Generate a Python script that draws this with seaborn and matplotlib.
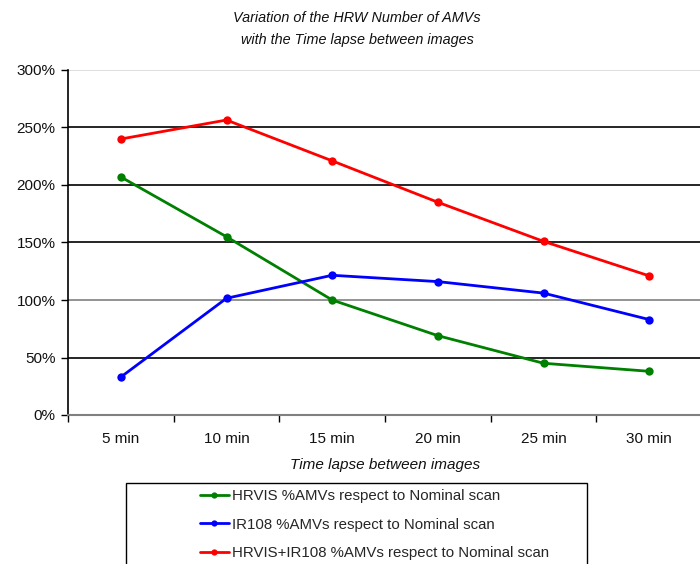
import matplotlib
matplotlib.use("Agg")
import matplotlib.pyplot as plt
from matplotlib.patches import Rectangle
from matplotlib.lines import Line2D
from matplotlib.ticker import FuncFormatter, FixedLocator
import seaborn as sns
import pandas as pd

# Time lapse categories and percentage of AMVs relative to the nominal scan
lapses = ["5 min", "10 min", "15 min", "20 min", "25 min", "30 min"]
hrvis = [207, 155, 100, 69, 45, 38]
ir108 = [33, 101.5, 121.5, 116, 106, 83]
combined = [240, 256.5, 221, 185, 151, 121]

series_names = [
    "HRVIS %AMVs respect to Nominal scan",
    "IR108 %AMVs respect to Nominal scan",
    "HRVIS+IR108 %AMVs respect to Nominal scan",
]
series_colors = ["#008000", "#0000ff", "#ff0000"]
yticks = [0, 50, 100, 150, 200, 250, 300]

df = pd.concat(
    [
        pd.DataFrame({"lapse": lapses, "pct": vals, "series": name})
        for name, vals in zip(series_names, [hrvis, ir108, combined])
    ],
    ignore_index=True,
)

sns.set_theme(style="white")
plt.rcParams["font.family"] = ["Liberation Sans", "DejaVu Sans"]

W, H = 700, 564
fig = plt.figure(figsize=(W / 100, H / 100), dpi=100)
ax = fig.add_axes([68 / W, (H - 415) / H, (702 - 68) / W, (415 - 70) / H])

sns.lineplot(
    data=df, x="lapse", y="pct", hue="series", palette=series_colors,
    hue_order=series_names, sort=False, marker="o", markersize=6,
    markeredgewidth=0, linewidth=2, ax=ax, legend=False, zorder=3,
)

ax.set_xlim(-0.5, len(lapses) - 0.5)
ax.set_ylim(0, 300)
ax.set_yticks(yticks)
ax.yaxis.set_major_formatter(FuncFormatter(lambda v, _: f"{v:.0f}%"))

# horizontal gridlines
ax.yaxis.grid(True, color="black", linewidth=1.2)
ax.set_axisbelow(True)
for val, gl in zip(yticks, ax.get_ygridlines()):
    if val == 300:
        gl.set_color("#d8d8d8")
    elif val in (0, 100):
        gl.set_color("#808080")

for side in ["top", "right"]:
    ax.spines[side].set_visible(False)
ax.spines["left"].set_color("black")
ax.spines["left"].set_linewidth(1.2)
ax.spines["bottom"].set_color("#808080")
ax.spines["bottom"].set_linewidth(1.5)

ax.tick_params(axis="y", which="major", left=True, length=5, width=1,
               color="black", labelsize=11, labelcolor="#111111", pad=4)
ax.tick_params(axis="x", which="major", bottom=False, length=0,
               labelsize=11, labelcolor="#111111", pad=12)
ax.xaxis.set_minor_locator(FixedLocator([i - 0.5 for i in range(len(lapses) + 1)]))
ax.tick_params(axis="x", which="minor", bottom=True, length=5, width=1, color="black")

ax.set_xlabel("Time lapse between images", fontsize=11, style="italic",
              color="#111111", labelpad=9)
ax.set_ylabel("")

fig.text(357 / W, 1 - 29 / H, "Variation of the HRW Number of AMVs\nwith the Time lapse between images",
         ha="center", va="center", fontsize=10.4, style="italic", color="#111111",
         linespacing=1.65)

# legend box running off the bottom edge
fig.patches.append(Rectangle((126 / W, -0.05), (587 - 126) / W, (H - 483) / H + 0.05,
                             transform=fig.transFigure, fill=False,
                             edgecolor="black", linewidth=1))
handles = [Line2D([], [], color=c, marker="o", markersize=4.5, markeredgewidth=0, linewidth=2)
           for c in series_colors]
fig.legend(handles, series_names, loc="upper left",
           bbox_to_anchor=(188 / W, 1 - 477 / H), frameon=False,
           fontsize=10.8, handlelength=1.9, handletextpad=0.25,
           labelspacing=0.98, borderpad=0.3)

fig.savefig("out.png", dpi=100)
